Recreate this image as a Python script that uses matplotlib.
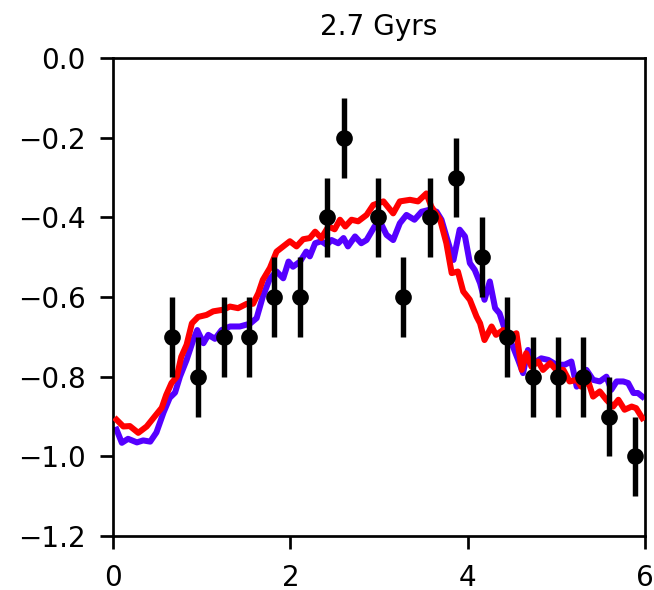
import matplotlib
matplotlib.use("Agg")
import matplotlib.pyplot as plt
import numpy as np

title = "2.7 Gyrs"

obs_x = [0.665, 0.96, 1.25, 1.53, 1.82, 2.11, 2.41, 2.60, 2.99, 3.27, 3.57, 3.87, 4.16, 4.44, 4.74, 5.02, 5.30, 5.59, 5.89]
obs_y = [-0.7, -0.8, -0.7, -0.7, -0.6, -0.6, -0.4, -0.2, -0.4, -0.6, -0.4, -0.3, -0.5, -0.7, -0.8, -0.8, -0.8, -0.9, -1.0]
obs_err = [0.1] * len(obs_x)

red_x = [0.04, 0.117, 0.19, 0.285, 0.38, 0.47, 0.55, 0.60, 0.66, 0.72, 0.77, 0.83, 0.89, 0.96,
         1.055, 1.13, 1.24, 1.32, 1.41, 1.51, 1.58, 1.64, 1.69, 1.77, 1.845, 1.92, 1.995, 2.07,
         2.145, 2.22, 2.28, 2.35, 2.43, 2.50, 2.56, 2.62, 2.69, 2.765, 2.86, 2.935, 3.05, 3.16,
         3.235, 3.35, 3.44, 3.535, 3.59, 3.69, 3.76, 3.82, 3.89, 3.95, 4.025, 4.10, 4.14, 4.19,
         4.27, 4.32, 4.40, 4.475, 4.55, 4.61, 4.66, 4.72, 4.795, 4.85, 4.93, 5.00, 5.08, 5.15,
         5.23, 5.28, 5.36, 5.415, 5.49, 5.565, 5.64, 5.70, 5.77, 5.85, 5.90, 5.97]
red_y = [-0.908, -0.925, -0.924, -0.941, -0.925, -0.90, -0.878, -0.846, -0.816, -0.80, -0.75, -0.72,
         -0.666, -0.65, -0.645, -0.636, -0.632, -0.624, -0.628, -0.617, -0.617, -0.59, -0.557, -0.527,
         -0.486, -0.473, -0.46, -0.473, -0.455, -0.452, -0.436, -0.452, -0.423, -0.43, -0.406, -0.423,
         -0.406, -0.41, -0.394, -0.369, -0.36, -0.39, -0.36, -0.356, -0.36, -0.34, -0.373, -0.406,
         -0.465, -0.54, -0.536, -0.586, -0.607, -0.649, -0.666, -0.708, -0.674, -0.695, -0.683, -0.699,
         -0.691, -0.783, -0.741, -0.775, -0.762, -0.783, -0.766, -0.783, -0.783, -0.812, -0.808, -0.825,
         -0.812, -0.85, -0.837, -0.858, -0.875, -0.858, -0.883, -0.875, -0.879, -0.904]

blue_x = [0.04, 0.10, 0.17, 0.27, 0.34, 0.42, 0.49, 0.57, 0.64, 0.70, 0.755, 0.83, 0.905, 0.95,
          1.02, 1.075, 1.15, 1.225, 1.32, 1.43, 1.545, 1.62, 1.69, 1.77, 1.845, 1.92, 1.98, 2.03,
          2.11, 2.18, 2.22, 2.28, 2.35, 2.41, 2.465, 2.54, 2.60, 2.65, 2.73, 2.80, 2.86, 2.95,
          3.01, 3.085, 3.16, 3.235, 3.31, 3.40, 3.48, 3.57, 3.65, 3.705, 3.76, 3.84, 3.91, 3.97,
          4.025, 4.08, 4.14, 4.19, 4.25, 4.31, 4.36, 4.44, 4.51, 4.57, 4.625, 4.68, 4.74, 4.83,
          4.91, 5.00, 5.095, 5.17, 5.23, 5.28, 5.34, 5.415, 5.49, 5.565, 5.62, 5.68, 5.755, 5.81,
          5.87, 5.92, 5.97]
blue_y = [-0.933, -0.966, -0.956, -0.965, -0.96, -0.963, -0.94, -0.89, -0.853, -0.84, -0.80, -0.758,
          -0.708, -0.683, -0.716, -0.695, -0.705, -0.683, -0.674, -0.674, -0.667, -0.653, -0.599,
          -0.553, -0.536, -0.553, -0.511, -0.524, -0.511, -0.486, -0.498, -0.465, -0.46, -0.469,
          -0.457, -0.465, -0.452, -0.473, -0.448, -0.465, -0.457, -0.423, -0.41, -0.444, -0.457,
          -0.415, -0.394, -0.406, -0.386, -0.381, -0.386, -0.406, -0.448, -0.507, -0.431, -0.448,
          -0.515, -0.532, -0.565, -0.607, -0.561, -0.628, -0.641, -0.695, -0.724, -0.758, -0.791,
          -0.733, -0.766, -0.754, -0.758, -0.77, -0.77, -0.762, -0.825, -0.804, -0.783, -0.808,
          -0.812, -0.80, -0.833, -0.812, -0.812, -0.816, -0.841, -0.841, -0.85]

x_ticks = [0, 2, 4, 6]
y_ticks = [0.0, -0.2, -0.4, -0.6, -0.8, -1.0, -1.2]

fig = plt.figure(figsize=(655 / 150, 590 / 150), dpi=150)
ax = fig.add_axes([0.1725, 0.0915, 0.8122, 0.8102])

ax.plot(blue_x, blue_y, color="#5500ff", lw=2.9, zorder=2)
ax.plot(red_x, red_y, color="#ff0000", lw=2.9, zorder=3)
ax.errorbar(obs_x, obs_y, yerr=obs_err, fmt="o", color="black", ms=7,
            elinewidth=2.6, capsize=0, zorder=4)

ax.set_xlim(0, 6)
ax.set_ylim(-1.2, 0.0)
ax.set_xticks(x_ticks)
ax.set_yticks(y_ticks)
ax.set_yticklabels([f"{v:.1f}".replace("-", "\u2212") for v in y_ticks])
ax.tick_params(labelsize=13.4, length=6.2, width=1.3, pad=7)
for s in ax.spines.values():
    s.set_linewidth(1.3)
ax.set_title(title, fontsize=13.4, pad=11)

fig.savefig("out.png", dpi=150)
